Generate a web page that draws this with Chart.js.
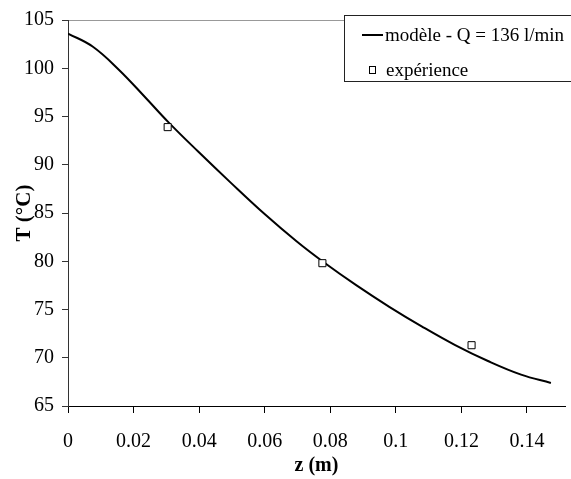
<!DOCTYPE html>
<html>
<head>
<meta charset="utf-8">
<script src="https://cdn.jsdelivr.net/npm/chart.js@4.4.0/dist/chart.umd.min.js"></script>
<style>
  body { margin: 0; background: #fff; }
</style>
</head>
<body>
<canvas id="chart" width="571" height="479"></canvas>
<script>
// model curve
var zModel = [0, 0.0075, 0.0155, 0.0236, 0.0306, 0.0397, 0.0497, 0.0598, 0.0698, 0.0779, 0.0879, 0.098, 0.108, 0.1181, 0.1281, 0.1382, 0.1473];
var tModel = [103.6, 102.25, 99.85, 96.97, 94.42, 91.37, 88.12, 84.94, 82.04, 79.92, 77.52, 75.28, 73.23, 71.31, 69.66, 68.25, 67.39];
// measured points
var zExp = [0.0304, 0.0776, 0.1231];
var tExp = [93.9, 79.8, 71.3];
// x tick labels
var xTicks = [0, 0.02, 0.04, 0.06, 0.08, 0.1, 0.12, 0.14];
var legendLabels = ['modèle - Q = 136 l/min', 'expérience'];

var FAMILY = "'Liberation Serif', 'Times New Roman', serif";

// legend box drawn in the top right corner of the plot, like the original
var boxLegend = {
    id: 'boxLegend',
    afterDraw: function(chart) {
        var c = chart.ctx;
        c.save();
        c.fillStyle = '#fff';
        c.fillRect(344, 15, 240, 67);
        c.strokeStyle = '#222';
        c.lineWidth = 1;
        c.strokeRect(344.5, 15.5, 240, 66);
        c.font = '19px ' + FAMILY;
        c.fillStyle = '#000';
        c.textBaseline = 'middle';
        // line sample
        c.fillRect(362, 34, 21, 2);
        c.fillText(legendLabels[0], 385, 36);
        // square sample
        c.strokeStyle = '#000';
        c.strokeRect(369.5, 66.5, 6, 7);
        c.fillText(legendLabels[1], 386, 71);
        c.restore();
    }
};

function draw() {
    var model = [];
    for (var i = 0; i < zModel.length; i++) {
        model.push({x: zModel[i], y: tModel[i]});
    }
    var exp = [];
    for (var i = 0; i < zExp.length; i++) {
        exp.push({x: zExp[i], y: tExp[i]});
    }

    Chart.defaults.font.family = FAMILY;
    Chart.defaults.font.size = 20;
    Chart.defaults.color = '#000';

    var ctx = document.getElementById('chart').getContext('2d');
    var chart = new Chart(ctx, {
        type: 'scatter',
        data: {
            datasets: [{
                label: legendLabels[0],
                data: model,
                showLine: true,
                borderColor: '#000',
                borderWidth: 2,
                pointRadius: 0,
                tension: 0.4,
                order: 2
            }, {
                label: legendLabels[1],
                data: exp,
                pointStyle: 'rect',
                pointRadius: 5,
                borderWidth: 1,
                borderColor: '#000',
                backgroundColor: '#fff',
                order: 1
            }]
        },
        options: {
            responsive: false,
            animation: false,
            layout: { padding: { top: 6, right: 0, left: 0, bottom: 0 } },
            plugins: { legend: { display: false }, tooltip: { enabled: false } },
            scales: {
                x: {
                    type: 'linear',
                    min: 0,
                    max: 0.1516,
                    ticks: {
                        padding: 17,
                        maxRotation: 0,
                        autoSkip: false,
                        callback: function(v) { return String(Number(v.toFixed(2))); }
                    },
                    afterBuildTicks: function(scale) {
                        scale.ticks = xTicks.map(function(v) { return {value: v}; });
                    },
                    afterFit: function(scale) { scale.height = 73; },
                    grid: { drawOnChartArea: false, tickLength: 7, tickColor: '#000' },
                    border: { color: '#000', width: 1 },
                    title: { display: true, text: 'z (m)', font: { weight: 'bold', size: 20 }, padding: { top: 1, bottom: 1 } }
                },
                y: {
                    min: 65,
                    max: 105,
                    ticks: { stepSize: 5, padding: 8 },
                    afterFit: function(scale) { scale.width = 68; },
                    grid: {
                        color: function(c) { return c.tick && c.tick.value === 105 ? '#999' : 'rgba(0,0,0,0)'; },
                        tickLength: 6,
                        tickColor: '#333'
                    },
                    border: { color: '#333', width: 1 },
                    title: { display: true, text: 'T (°C)', font: { weight: 'bold', size: 21 }, padding: { top: 12, bottom: 0 } }
                }
            }
        },
        plugins: [boxLegend]
    });
}

// wait for the serif faces so the canvas does not fall back to sans
Promise.all([
    document.fonts.load("20px 'Liberation Serif'"),
    document.fonts.load("bold 20px 'Liberation Serif'")
]).then(draw, draw);
</script>
</body>
</html>
